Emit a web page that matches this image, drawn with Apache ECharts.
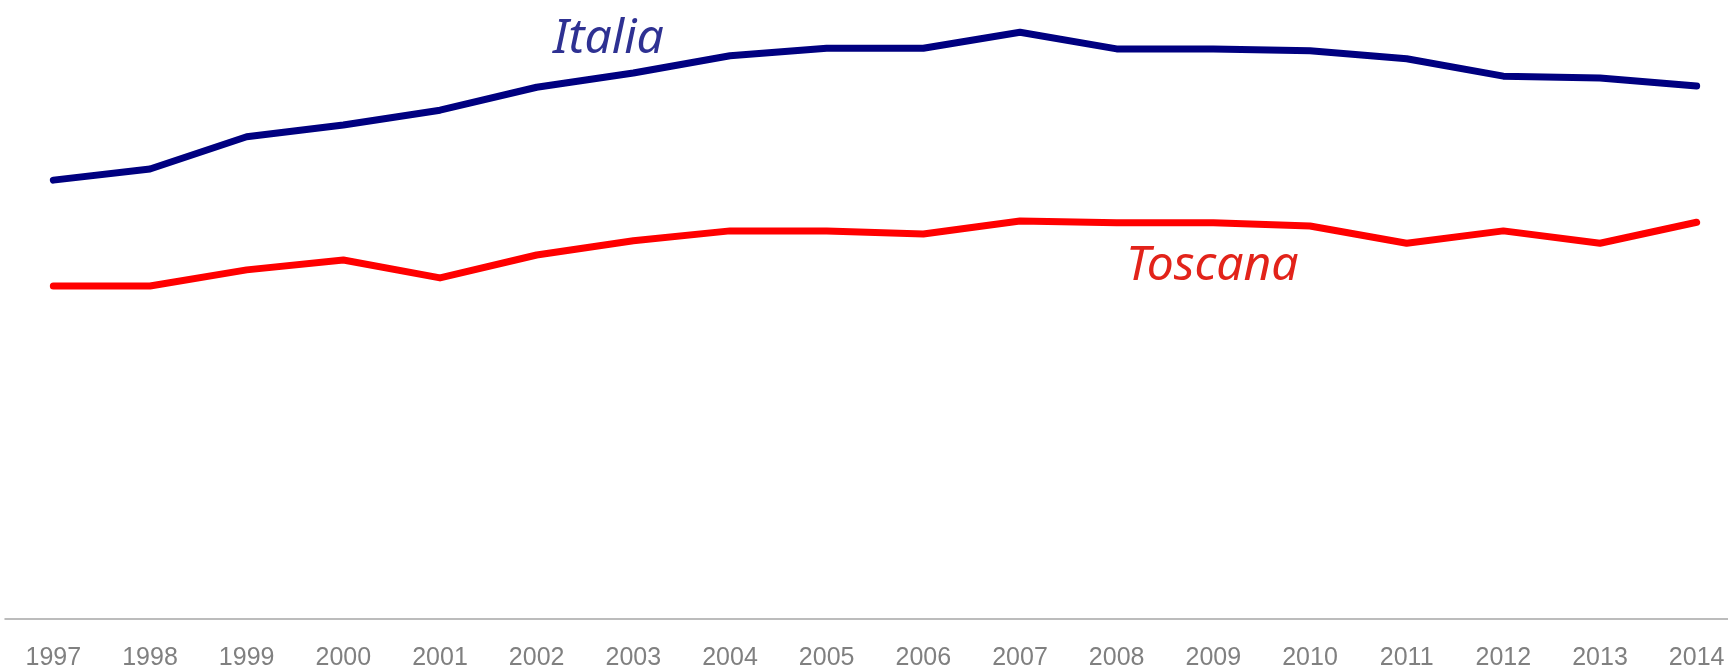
<!DOCTYPE html>
<html>
<head>
<meta charset="utf-8">
<script src="https://cdn.jsdelivr.net/npm/echarts@6/dist/echarts.min.js"></script>
<style>
html,body{margin:0;padding:0;background:#fff;}
#chart{width:1728px;height:669px;}
</style>
</head>
<body>
<div id="chart"></div>
<script>
const years = ['1997','1998','1999','2000','2001','2002','2003','2004','2005','2006','2007','2008','2009','2010','2011','2012','2013','2014'];
const italia = [70.9,72.7,77.9,79.8,82.2,85.9,88.2,91.0,92.2,92.2,94.8,92.1,92.1,91.8,90.5,87.7,87.4,86.1];
const toscana = [53.8,53.8,56.4,58.0,55.1,58.8,61.1,62.7,62.7,62.2,64.3,64.0,64.0,63.5,60.7,62.7,60.7,64.1];
const seriesNames = ['Italia','Toscana'];

const chart = echarts.init(document.getElementById('chart'), null, {renderer:'canvas'});
chart.setOption({
  animation:false,
  backgroundColor:'#ffffff',
  grid:{left:5,width:1740,top:0,bottom:50,containLabel:false,outerBoundsMode:'none'},
  xAxis:{
    type:'category',
    data:years,
    boundaryGap:true,
    axisLine:{show:true,lineStyle:{color:'#a6a6a6',width:1.5}},
    axisTick:{show:false},
    axisLabel:{color:'#808080',fontSize:25,fontFamily:'Liberation Sans, Arial, sans-serif',margin:27,interval:0}
  },
  yAxis:{
    type:'value',min:0,max:100,show:false,
    splitLine:{show:false}
  },
  series:[
    {name:seriesNames[0],type:'line',data:italia,symbol:'none',smooth:false,
     lineStyle:{color:'#000080',width:7,cap:'round',join:'round'}},
    {name:seriesNames[1],type:'line',data:toscana,symbol:'none',smooth:false,
     lineStyle:{color:'#ff0000',width:7,cap:'round',join:'round'}}
  ],
  graphic:[
    {type:'text',x:553,y:39,style:{text:seriesNames[0],fill:'#2e3192',font:'italic 48px "Noto Sans", sans-serif',align:'left',verticalAlign:'middle'}},
    {type:'text',x:1126,y:266,style:{text:seriesNames[1],fill:'#e2231a',font:'italic 48px "Noto Sans", sans-serif',align:'left',verticalAlign:'middle'}}
  ]
});
</script>
</body>
</html>
